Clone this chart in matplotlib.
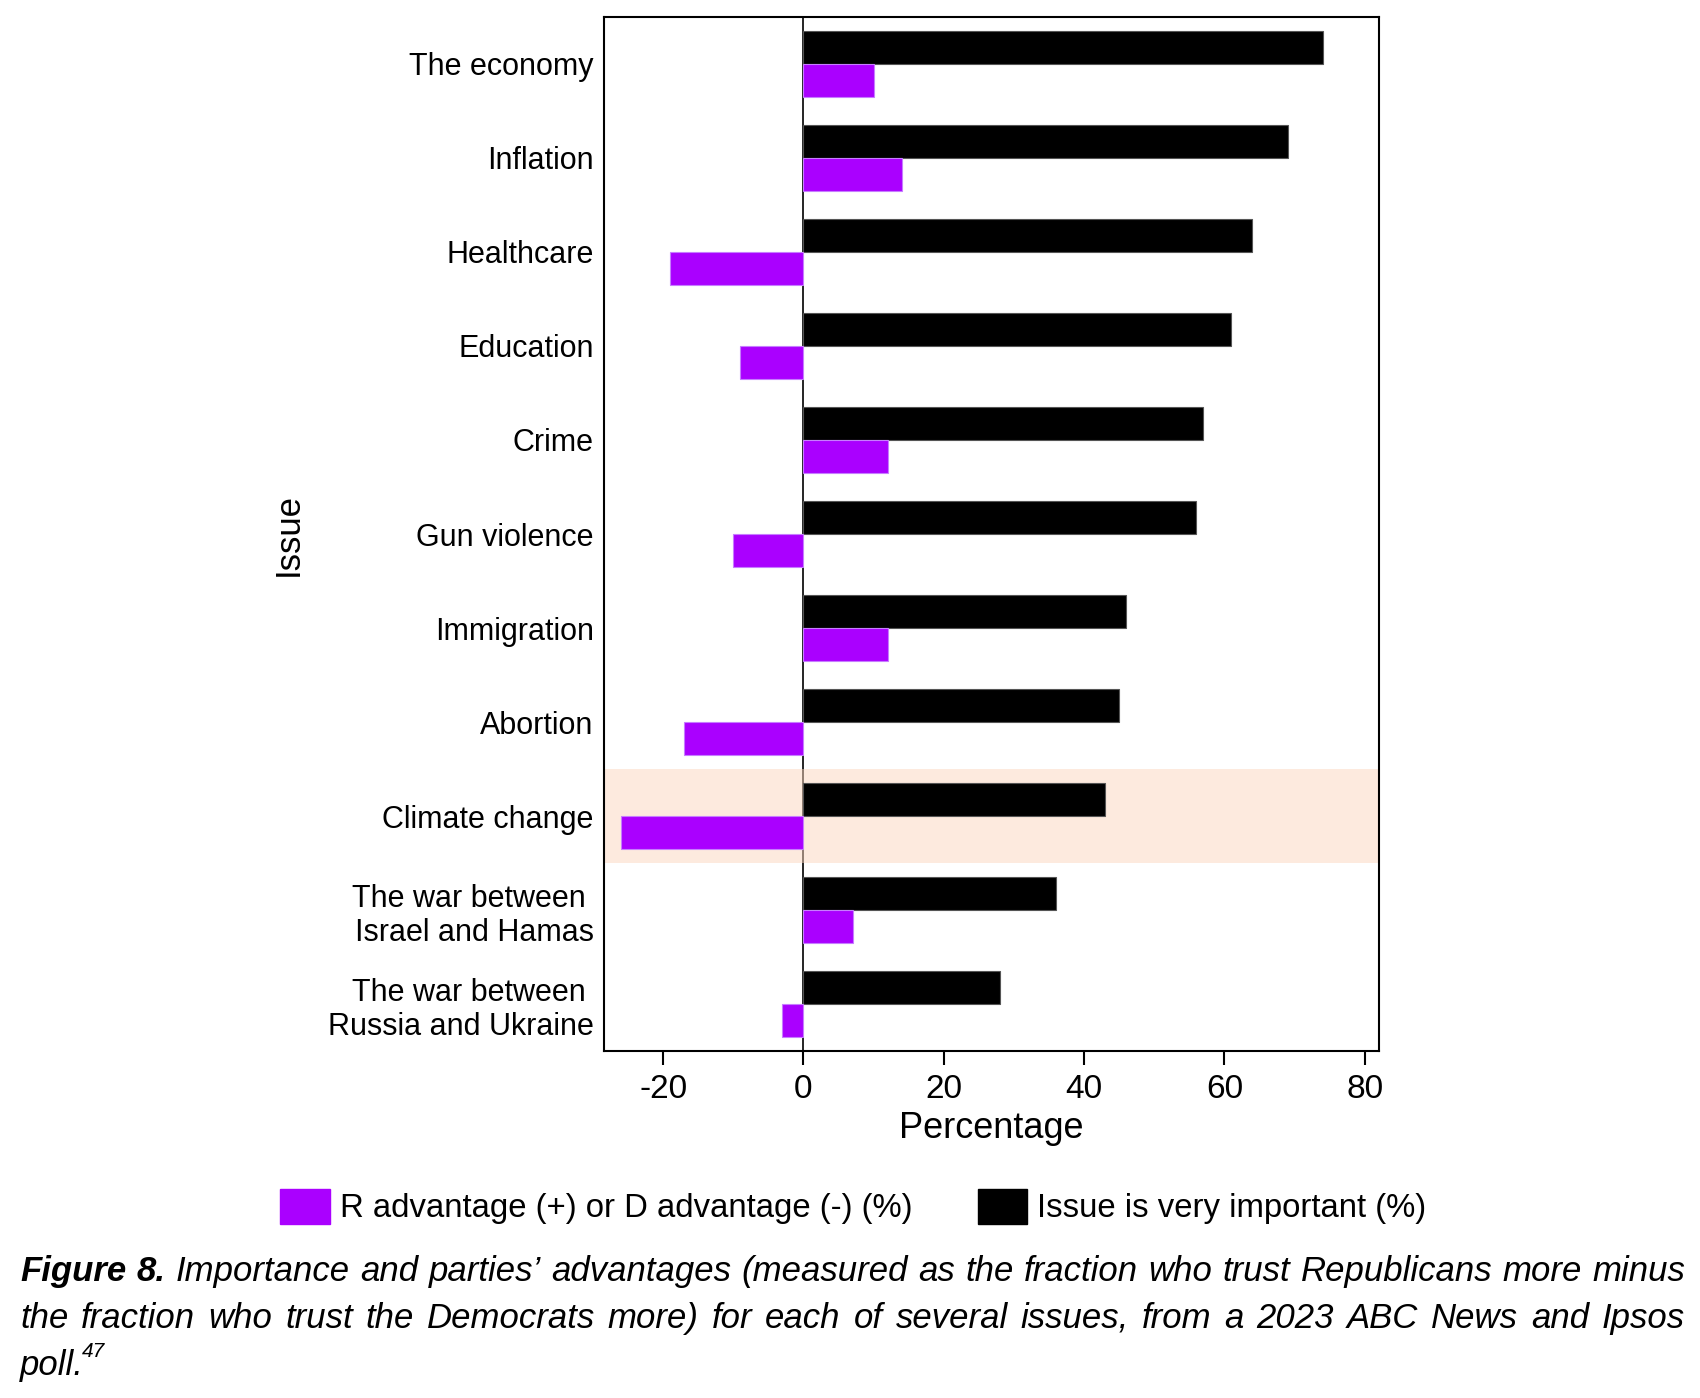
import numpy as np
import matplotlib
matplotlib.use('Agg')
import matplotlib.pyplot as plt
from matplotlib.patches import Patch

plt.rcParams['font.family'] = ['Liberation Sans', 'DejaVu Sans']
plt.rcParams['axes.unicode_minus'] = False

# data
issues = ['The economy', 'Inflation', 'Healthcare', 'Education', 'Crime',
          'Gun violence', 'Immigration', 'Abortion', 'Climate change',
          'The war between \nIsrael and Hamas',
          'The war between \nRussia and Ukraine']
important = [74, 69, 64, 61, 57, 56, 46, 45, 43, 36, 28]
advantage = [10, 14, -19, -9, 12, -10, 12, -17, -26, 7, -3]
highlight = 'Climate change'

purple = '#aa00ff'
h = 0.35

fig = plt.figure(figsize=(17, 13.98), dpi=100)
ax = fig.add_axes([0.355, 0.248, 0.811 - 0.355, 0.988 - 0.248])

y = np.arange(len(issues))
ax.barh(y - h / 2, important, height=h, color='black', edgecolor='#555555',
        linewidth=0.8, zorder=3)
ax.barh(y + h / 2, advantage, height=h, color=purple, edgecolor='#c77dff',
        linewidth=0.8, zorder=3)

k = issues.index(highlight)
ax.axhspan(k - 0.5, k + 0.5, color='#fdd6bf', alpha=0.5, lw=0, zorder=2)
ax.axvline(0, color='black', lw=1.2, zorder=1)

ax.set_xlim(-28.5, 82)
ax.set_ylim(len(issues) - 0.5, -0.5)
ax.set_yticks(y)
ax.set_yticklabels(issues, fontsize=22)
ax.set_xticks([-20, 0, 20, 40, 60, 80])
ax.tick_params(axis='y', length=0, pad=7)
ax.tick_params(axis='x', length=10, width=1.5, labelsize=24, pad=6)
for s in ax.spines.values():
    s.set_linewidth(1.5)
ax.set_xlabel('Percentage', fontsize=26, labelpad=5)
ax.set_ylabel('Issue', fontsize=25, labelpad=17)

fig.legend(handles=[Patch(color=purple, label='R advantage (+) or D advantage (-) (%)'),
                    Patch(color='black', label='Issue is very important (%)')],
           loc='center', bbox_to_anchor=(0.502, 0.137), ncol=2, frameon=False,
           fontsize=23.7, handlelength=1.5, handleheight=1.25,
           handletextpad=0.3, columnspacing=2.0)

# caption, justified by hand
cap_lines = [
    [('Figure', 'bold'), ('8.', 'bold')] + [(w, 'normal') for w in
        "Importance and parties\u2019 advantages (measured as the fraction who trust Republicans more minus".split()],
    [(w, 'normal') for w in
        "the fraction who trust the Democrats more) for each of several issues, from a 2023 ABC News and Ipsos".split()],
    [('poll.', 'normal')],
]
cap_y = [0.0838, 0.0502, 0.0166]
x0, x1 = 20 / 1700, 1685 / 1700
fig.canvas.draw()
renderer = fig.canvas.get_renderer()
W = fig.get_figwidth() * fig.dpi
for words, yy in zip(cap_lines, cap_y):
    texts = [fig.text(0, yy, w, fontsize=25, style='italic', weight=wt,
                      ha='left', va='baseline') for w, wt in words]
    widths = [t.get_window_extent(renderer).width / W for t in texts]
    if len(words) > 1:
        gap = (x1 - x0 - sum(widths)) / (len(words) - 1)
    else:
        gap = 0
    x = x0
    for t, wd in zip(texts, widths):
        t.set_x(x)
        x += wd + gap
    if len(words) == 1:
        fig.text(x - 0.001, yy + 0.013, '47', fontsize=15, style='italic',
                 ha='left', va='baseline')

fig.savefig('out.png', dpi=100)
